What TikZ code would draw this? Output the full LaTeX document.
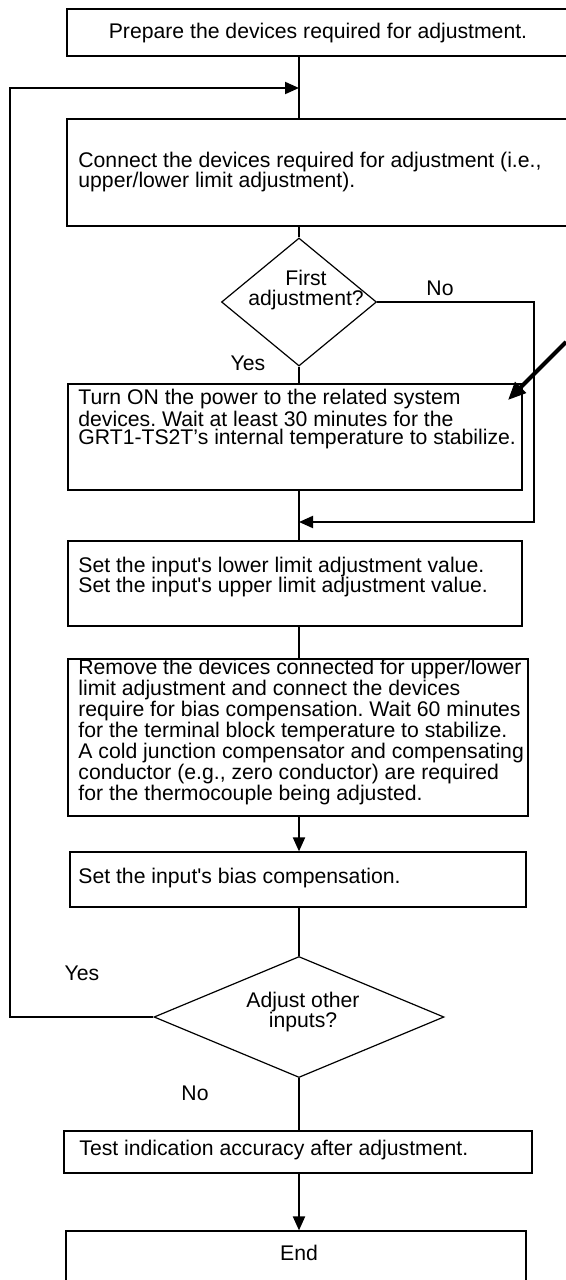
\documentclass[tikz,border=0pt]{standalone}
\usepackage{fontspec}
\setmainfont{Liberation Sans}[Ligatures=TeXOff]
\frenchspacing
\usepackage{tikz}
\usetikzlibrary{arrows.meta, positioning, shapes.geometric, fit, calc}

\tikzset{
  stepbox/.style={draw, rectangle, inner sep=0pt, line width=0.6pt},
  decision/.style={draw, diamond, inner sep=0pt, line width=0.6pt},
  steptext/.style={anchor=west, align=left, inner sep=0pt, font=\fontsize{10.6}{10}\selectfont},
  midtext/.style={align=center, inner sep=0pt, font=\fontsize{10.6}{10}\selectfont},
  flowline/.style={line width=1pt},
  flowarrow/.style={flowline, -{Triangle[length=7pt, width=6pt]}},
  pointer/.style={line width=2pt, -{Triangle[length=9pt, width=7.5pt]}}
}

\begin{document}
\begin{tikzpicture}[x=0.5pt, y=-0.5pt]
        \useasboundingbox (0,0) rectangle (566,1280);
        \coordinate (spine) at (299,0);

        % === Upper part ===
        \node[stepbox, fit={(67,9) (573,56)}] (prep) {};
        \node[midtext] (preptxt) at (318,33) {Prepare the devices required for adjustment.};

        \node[stepbox, fit={(67,119) (573,226)}] (conn) {};
        \node[steptext] (conntxt) at (78,172)
            {Connect the devices required for adjustment (i.e.,\\upper/lower limit adjustment).};

        \node[decision, minimum width=77.5pt, minimum height=64pt] (first) at (299,302) {};
        \node[midtext] (firsttxt) at (306,290) {First\\adjustment?};

        \node[stepbox, fit={(68,384) (522,490)}] (power) {};
        \node[steptext, font=\fontsize{10.6}{9.25}\selectfont] (powertxt) at (78,419)
            {Turn ON the power to the related system\\devices. Wait at least 30 minutes for the\\GRT1-TS2T’s internal temperature to stabilize.};

        % === Middle part ===
        \node[stepbox, fit={(68,541) (522,626)}] (setlim) {};
        \node[steptext] (setlimtxt) at (78,577)
            {Set the input's lower limit adjustment value.\\Set the input's upper limit adjustment value.};

        \node[stepbox, fit={(68,659) (528,816)}] (remove) {};
        \node[steptext, font=\fontsize{10.6}{10.55}\selectfont] (removetxt) at (78,732)
            {Remove the devices connected for upper/lower\\limit adjustment and connect the devices\\require for bias compensation. Wait 60 minutes\\for the terminal block temperature to stabilize.\\A cold junction compensator and compensating\\conductor (e.g., zero conductor) are required\\for the thermocouple being adjusted.};

        \node[stepbox, fit={(70,852) (526,907)}] (bias) {};
        \node[steptext] (biastxt) at (78,878) {Set the input's bias compensation.};

        % === Lower part ===
        \node[decision, minimum width=145pt, minimum height=60.5pt] (adjust) at (299,1017) {};
        \node[midtext] (adjusttxt) at (303,1012) {Adjust other\\inputs?};

        \node[stepbox, fit={(64,1131) (532,1173)}] (test) {};
        \node[steptext] (testtxt) at (79,1150) {Test indication accuracy after adjustment.};

        \node[stepbox, fit={(66,1231) (526,1340)}] (endbox) {};
        \node[midtext] (endtxt) at (299,1253) {End};

        % Yes / No
        \node[midtext] (yes1) at (248,363) {Yes};
        \node[midtext] (no1) at (440,288) {No};
        \node[midtext] (yes2) at (82,973) {Yes};
        \node[midtext] (no2) at (195,1093) {No};

        % Main line
        \draw[flowline] (prep.south -| spine) -- (conn.north -| spine);
        \draw[flowline] (conn.south -| spine) -- (first.north);
        \draw[flowline] (first.south) -- (power.north -| spine);
        \draw[flowline] (power.south -| spine) -- (setlim.north -| spine);
        \draw[flowline] (setlim.south -| spine) -- (remove.north -| spine);
        \draw[flowarrow] (remove.south -| spine) -- (bias.north -| spine);
        \draw[flowline] (bias.south -| spine) -- (adjust.north);
        \draw[flowline] (adjust.south) -- (test.north -| spine);
        \draw[flowarrow] (test.south -| spine) -- (endbox.north -| spine);

        % Loop back (Yes)
        \coordinate (loopleft) at (10,0);
        \coordinate (rejoin) at (299,88);
        \draw[flowarrow] (adjust.west) -- (adjust.west -| loopleft) |- (rejoin);

        % Skip (No)
        \coordinate (skipright) at (534,0);
        \coordinate (rejoin2) at (299,522);
        \draw[flowarrow] (first.east) -| (skipright |- rejoin2) -- (rejoin2);

        % Pointer
        \coordinate (ptrtail) at (566,342);
        \coordinate (ptrtip) at (508,400);
        \draw[pointer] (ptrtail) -- (ptrtip);
\end{tikzpicture}
\end{document}
